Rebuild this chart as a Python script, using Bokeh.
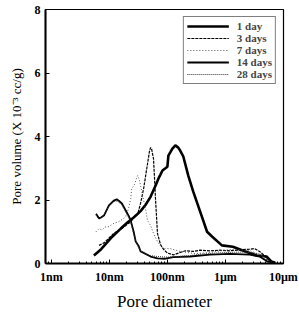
from bokeh.plotting import figure
from bokeh.models import Range1d, FixedTicker, Legend, LegendItem
from bokeh.embed import file_html
from bokeh.resources import INLINE

# ---- data (pore diameter in nm, pore volume in 10^-3 cc/g) ----
d_1day = [5.4, 7.2, 10.6, 15.7, 20.7, 26.2, 34.5, 42.1, 51.2, 62.3,
          70.2, 75.9, 82.2, 92.4, 100, 104, 112, 122, 137, 154,
          167, 188, 229, 278, 366, 483, 588, 871, 1343, 1991,
          3453, 5119, 6237, 7300]
v_1day = [0.25, 0.45, 0.8, 1.1, 1.3, 1.45, 1.65, 1.85, 2.1, 2.45,
          2.68, 2.8, 2.93, 3.0, 3.05, 3.4, 3.5, 3.62, 3.72, 3.65,
          3.55, 3.37, 2.77, 2.27, 1.64, 1.0, 0.85, 0.57, 0.53, 0.41,
          0.25, 0.22, 0.06, 0.02]

d_3days = [6.62, 8.05, 9.8, 11.9, 14.5, 16.4, 20.7, 23.3, 26.2, 30.7,
           34.5, 38.9, 45.5, 49.2, 51.2, 53.2, 57.6, 59.9, 62.3, 67.4,
           75.9, 85.5, 100, 127, 167, 203, 278, 366, 543, 805,
           1194, 1770, 2624, 3193, 3890, 4375, 5321, 6237]
v_3days = [0.57, 0.65, 0.8, 0.95, 1.05, 1.1, 1.25, 1.3, 1.45, 1.55,
           1.9, 2.36, 3.15, 3.55, 3.65, 3.62, 3.3, 2.7, 2.05, 0.95,
           0.6, 0.45, 0.33, 0.27, 0.35, 0.4, 0.38, 0.42, 0.4, 0.42,
           0.4, 0.43, 0.45, 0.47, 0.38, 0.3, 0.15, 0.05]

d_7days = [5.88, 6.62, 7.45, 8.38, 9.8, 11.5, 14.5, 17.0, 19.1, 21.5,
           23.3, 24.3, 27.3, 29.5, 30.7, 33.2, 37.4, 42.1, 45.5, 51.2,
           57.6, 67.4, 82.2, 112, 167, 301, 543, 1194, 2624, 4207, 5768]
v_7days = [1.0, 1.1, 1.05, 1.15, 1.16, 1.25, 1.32, 1.4, 1.48, 1.75,
           2.05, 2.36, 2.5, 2.7, 2.77, 2.6, 2.14, 1.7, 1.35, 1.2,
           0.95, 0.69, 0.47, 0.47, 0.38, 0.31, 0.35, 0.44, 0.41, 0.25, 0.05]

d_14days = [5.88, 6.62, 7.16, 8.05, 9.8, 11.9, 13.4, 14.5, 16.4, 19.1,
            21.5, 23.3, 26.2, 28.4, 31.9, 34.5, 37.4, 51.2, 67.4, 92.4,
            127, 247, 543, 1194, 2624, 3890, 5321, 7015]
v_14days = [1.57, 1.42, 1.45, 1.51, 1.83, 1.98, 2.02, 1.98, 1.89, 1.67,
            1.5, 1.35, 1.0, 0.69, 0.55, 0.38, 0.35, 0.22, 0.16, 0.15,
            0.2, 0.22, 0.28, 0.3, 0.28, 0.22, 0.06, 0.03]

d_28days = [5.88, 6.62, 7.16, 8.05, 9.8, 11.9, 13.4, 14.5, 16.4, 19.1,
            21.5, 23.3, 26.2, 28.4, 31.9, 34.5, 42.1, 51.2, 67.4, 100,
            150, 250, 400, 700, 1200, 2000, 3000, 4200, 5300, 6500]
v_28days = [1.52, 1.4, 1.44, 1.55, 1.8, 1.95, 1.97, 1.93, 1.85, 1.62,
            1.45, 1.3, 0.95, 0.72, 0.5, 0.4, 0.3, 0.25, 0.22, 0.2,
            0.22, 0.25, 0.3, 0.33, 0.35, 0.36, 0.34, 0.28, 0.12, 0.03]

x_ticks = [1, 10, 100, 1000, 10000]
x_tick_labels = ["1nm", "10nm", "100nm", "1\u00b5m", "10\u00b5m"]
y_ticks = [0, 2, 4, 6, 8]

SERIF = "Liberation Serif"

p = figure(x_axis_type="log",
           x_range=Range1d(0.79, 10050), y_range=Range1d(0, 8),
           output_backend="svg", toolbar_location=None,
           frame_width=238, frame_height=254,
           min_border_left=45, min_border_right=15,
           min_border_top=9, min_border_bottom=47)

p.grid.visible = False
p.outline_line_color = "black"
p.outline_line_width = 1.2
p.background_fill_color = "white"
p.border_fill_color = "white"

minor = [m * 10 ** k for k in range(-1, 5) for m in range(2, 10)]
p.xaxis.ticker = FixedTicker(ticks=x_ticks, minor_ticks=minor)
p.xaxis.major_label_overrides = {t: s for t, s in zip(x_ticks, x_tick_labels)}
p.yaxis.ticker = FixedTicker(ticks=y_ticks, minor_ticks=[])

for ax in (p.xaxis[0], p.yaxis[0]):
    ax.axis_line_width = 2
    ax.axis_line_color = "black"
    ax.major_tick_in = 4
    ax.major_tick_out = 0
    ax.minor_tick_in = 2
    ax.minor_tick_out = 0
    ax.major_tick_line_color = "black"
    ax.minor_tick_line_color = "black"
    ax.major_label_text_font = SERIF
    ax.major_label_text_font_style = "bold"
    ax.major_label_text_font_size = "12px"
    ax.major_label_text_color = "black"
    ax.axis_label_text_font = SERIF
    ax.axis_label_text_font_style = "normal"
    ax.axis_label_text_color = "black"

p.xaxis.axis_label = "Pore diameter"
p.xaxis.axis_label_text_font_size = "17px"
p.xaxis.major_label_standoff = 6
p.xaxis.axis_label_standoff = 5

p.yaxis.axis_label = "Pore volume (X 10\u207b\u00b3 cc/g)"
p.yaxis.axis_label_text_font_size = "13px"
p.yaxis.major_label_standoff = 5
p.yaxis.axis_label_standoff = 8

r1 = p.line(d_1day, v_1day, line_color="black", line_width=2.6)
r3 = p.line(d_3days, v_3days, line_color="black", line_width=1.2, line_dash="3 1")
r7 = p.line(d_7days, v_7days, line_color="#555555", line_width=1.0, line_dash="1 2")
r14 = p.line(d_14days, v_14days, line_color="black", line_width=1.8)
r28 = p.line(d_28days, v_28days, line_color="#333333", line_width=1.0, line_dash="1 1")

legend = Legend(items=[
    LegendItem(label="1 day", renderers=[r1]),
    LegendItem(label="3 days", renderers=[r3]),
    LegendItem(label="7 days", renderers=[r7]),
    LegendItem(label="14 days", renderers=[r14]),
    LegendItem(label="28 days", renderers=[r28]),
], location="top_right")
legend.label_text_font = SERIF
legend.label_text_font_style = "bold"
legend.label_text_font_size = "11px"
legend.label_text_align = "right"
legend.label_height = 12
legend.glyph_height = 12
legend.glyph_width = 42
legend.label_standoff = 8
legend.spacing = 0
legend.padding = 3
legend.margin = 7
legend.border_line_color = "black"
legend.border_line_width = 1.2
legend.background_fill_alpha = 1.0
p.add_layout(legend, "center")

open("out.html", "w").write(file_html(p, INLINE))
